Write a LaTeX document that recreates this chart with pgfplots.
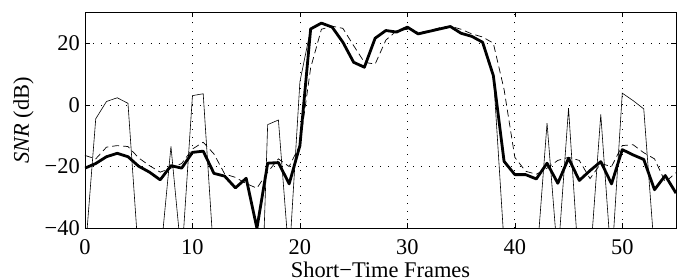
\documentclass[border=0pt]{standalone}
\usepackage{fontspec}
\setmainfont{Liberation Serif}
\usepackage{pgfplots}
\usepackage{pgfplotstable}
\pgfplotsset{compat=1.18}

\pgfplotstableread{
x thin dash thick
0 -49 -16.4 -20.5
1 -4.5 -17.5 -19
2 1.1 -13.7 -16.8
3 2.3 -13.2 -15.7
4 0.5 -13.5 -16.8
5 -50 -17.2 -19.9
6 -50 -19.7 -21.8
7 -50 -21.8 -24.3
8 -13.5 -20.5 -19.7
9 -50 -19 -20.5
10 3.0 -14.3 -15.4
11 3.6 -12.1 -15
12 -50 -15.9 -22.2
13 -50 -22.4 -23.1
14 -50 -23.5 -26.9
15 -50 -25.5 -23.8
16 -110 -27 -40
17 -6.4 -21.8 -18.9
18 -4.9 -17.5 -18.7
19 -50 -20 -25.6
20 7.5 -13 -13.2
21 24.6 12 24.6
22 26.5 24.5 26.5
23 25.2 25.5 25.2
24 20.3 24.8 20.3
25 13.8 19.2 13.8
26 12.2 13.8 12.2
27 21.6 13.2 21.6
28 24.1 21 24.1
29 23.6 24 23.6
30 25.2 24.5 25.2
31 23 23.5 23
32 23.8 24 23.8
33 24.6 25 24.6
34 25.4 25.5 25.4
35 23.2 24.5 23.2
36 22.2 23 22.2
37 20.3 22 20.3
38 10 20 9.5
39 -45 5 -18.3
40 -50 -17 -22.6
41 -50 -21.5 -22.6
42 -52 -22.5 -24
43 -5.9 -20.5 -18.9
44 -50 -18 -25.4
45 -1.1 -17 -17.3
46 -55 -18 -24.5
47 -51 -23.9 -21.3
48 -3.1 -19 -18.4
49 -52 -20 -25.6
50 3.8 -13.2 -14.5
51 1.4 -12.9 -16.2
52 -1.3 -15.5 -17.7
53 -48 -17.5 -27.5
54 -50 -25 -22.9
55 -50 -22 -28.6
}\snrdata

\begin{document}
\begin{tikzpicture}
\path[use as bounding box] (-85bp,-50.7bp) rectangle (600bp,228.3bp);
\begin{axis}[
  scale only axis,
  width=591bp, height=216bp,
  xmin=0, xmax=55, ymin=-40, ymax=30,
  xtick={0,10,20,30,40,50},
  ytick={-40,-20,0,20},
  yticklabels={−40,−20,0,20},
  /pgf/number format/assume math mode=true,
  tick align=inside, tick pos=both,
  major tick length=5bp,
  tick style={black, line width=0.6bp},
  axis line style={black, line width=0.8bp},
  grid=major,
  major grid style={black, line width=0.7bp, dash pattern=on 0.8bp off 7.4bp},
  ticklabel style={font=\fontsize{22.5}{22.5}\selectfont},
  xticklabel style={anchor=base, inner sep=0pt, yshift=-26.2bp},
  yticklabel style={anchor=east, inner sep=0pt, xshift=-5bp},
  label style={font=\fontsize{22.5}{22.5}\selectfont},
  xlabel={Short−Time Frames},
  xlabel style={at={(axis description cs:0.5,-0.226)}, anchor=base, inner sep=0pt},
  ylabel={\textit{SNR} (dB)},
  ylabel style={at={(axis description cs:-0.104,0.5)}, anchor=center, rotate=0},
]
\addplot[black, line width=0.6bp] table[x=x, y=thin] {\snrdata};
\addplot[black, line width=0.7bp, dash pattern=on 7bp off 4bp] table[x=x, y=dash] {\snrdata};
\addplot[black, line width=2.8bp, line join=round] table[x=x, y=thick] {\snrdata};
\end{axis}
\end{tikzpicture}
\end{document}
